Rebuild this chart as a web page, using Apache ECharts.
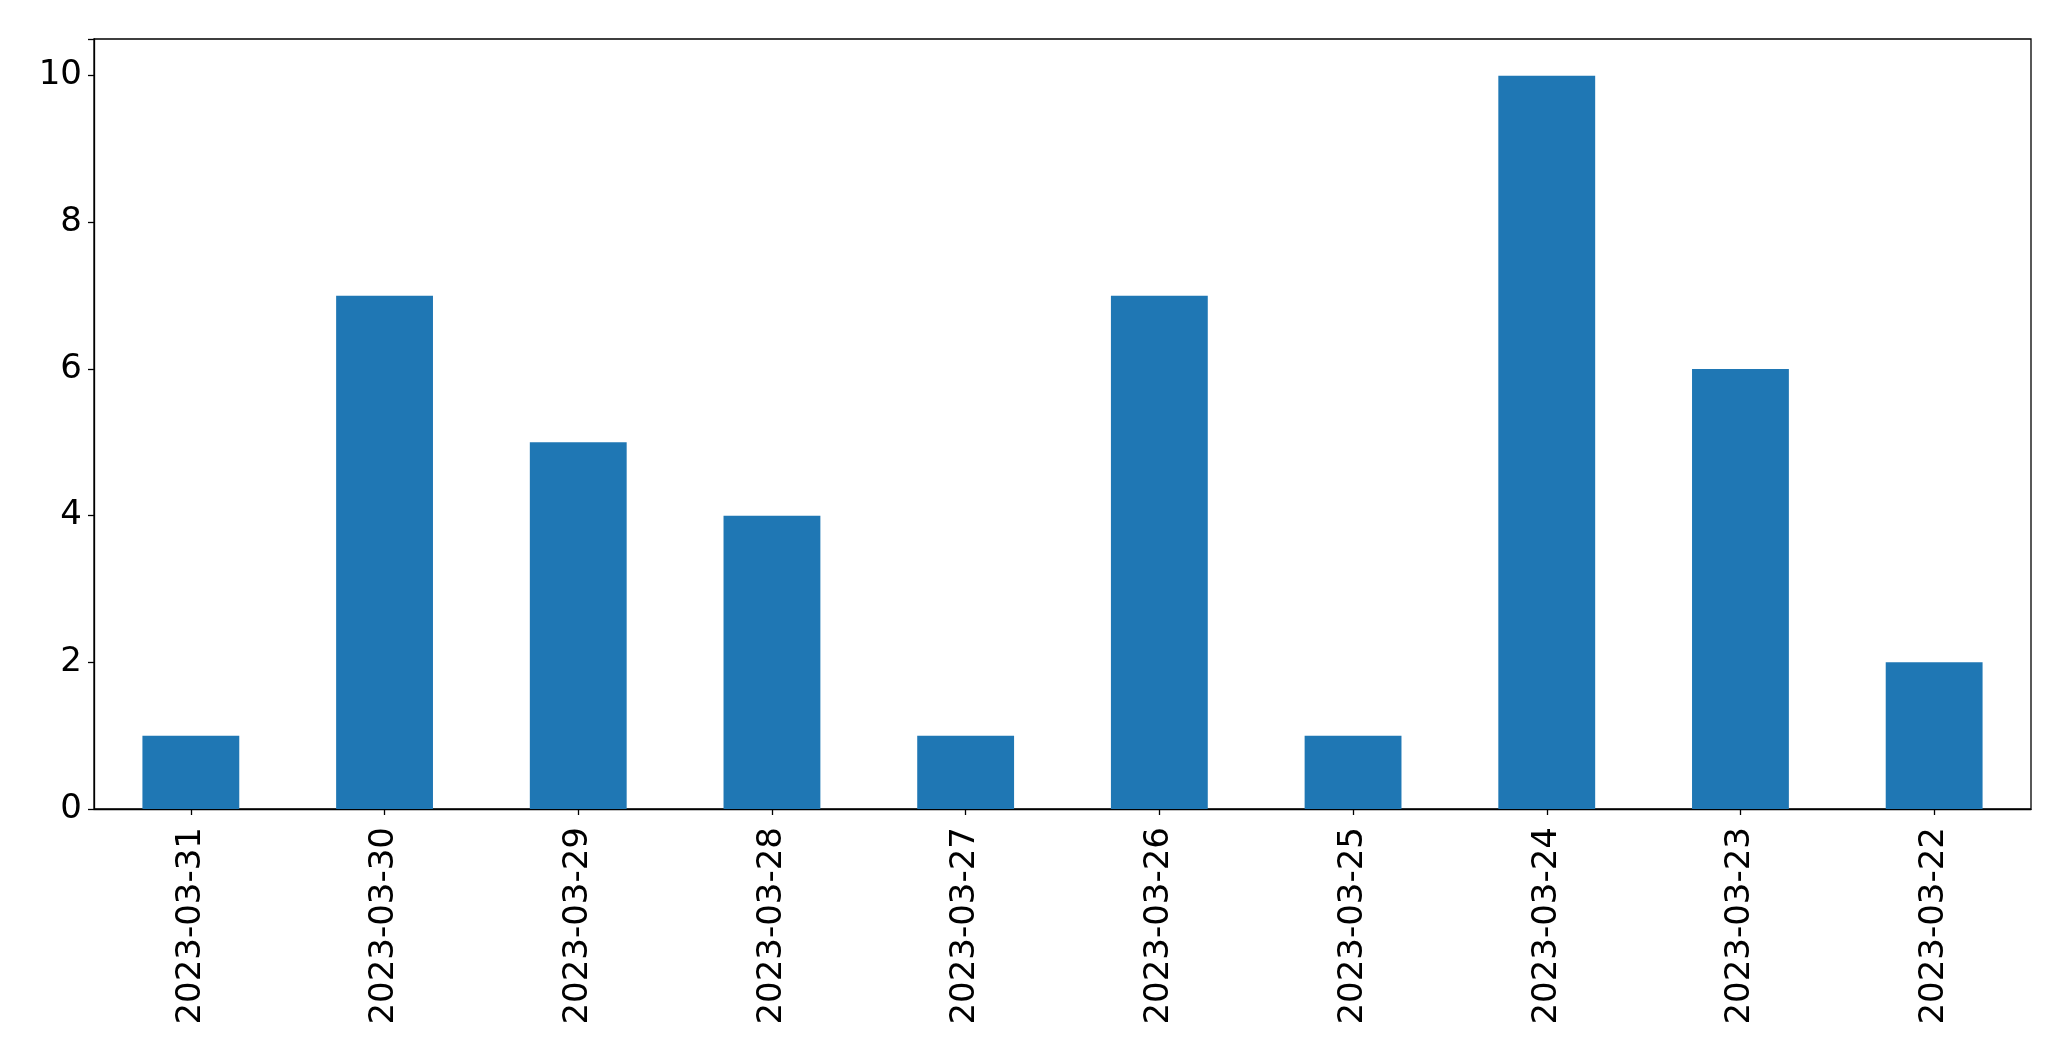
<!DOCTYPE html>
<html>
<head>
<meta charset="utf-8">
<script src="https://cdn.jsdelivr.net/npm/echarts@6/dist/echarts.min.js"></script>
<style>
html,body{margin:0;padding:0;background:#fff;}
#chart{width:2071px;height:1061px;}
</style>
</head>
<body>
<div id="chart"></div>
<script>
const categories = ['2023-03-31','2023-03-30','2023-03-29','2023-03-28','2023-03-27','2023-03-26','2023-03-25','2023-03-24','2023-03-23','2023-03-22'];
const values = [1, 7, 5, 4, 1, 7, 1, 10, 6, 2];
const yTicks = [0, 2, 4, 6, 8, 10];

const chart = echarts.init(document.getElementById('chart'), null, {renderer: 'canvas'});
const font = 'DejaVu Sans';
chart.setOption({
  animation: false,
  backgroundColor: '#ffffff',
  grid: {
    left: 94, top: 39, width: 1937, height: 770,
    show: true, borderColor: '#000', borderWidth: 1.3, backgroundColor: 'transparent'
  },
  xAxis: {
    type: 'category',
    data: categories,
    boundaryGap: true,
    axisLine: {show: true, lineStyle: {color: '#000', width: 1.3}},
    axisTick: {show: true, alignWithLabel: true, length: 6, lineStyle: {color: '#000', width: 1.3}},
    axisLabel: {rotate: 90, fontSize: 34, fontFamily: font, color: '#000', margin: 18, interval: 0}
  },
  yAxis: {
    type: 'value',
    min: 0, max: 10.5, interval: 2,
    axisLine: {show: true, lineStyle: {color: '#000', width: 1.3}},
    axisTick: {show: true, length: 6, lineStyle: {color: '#000', width: 1.3}},
    splitLine: {show: false},
    axisLabel: {
      fontSize: 34, fontFamily: font, color: '#000', margin: 12,
      formatter: function (v) { return yTicks.indexOf(v) >= 0 ? String(v) : ''; }
    }
  },
  series: [{
    type: 'bar',
    data: values,
    barWidth: '50%',
    itemStyle: {color: '#1f77b4'}
  }]
});
</script>
</body>
</html>
